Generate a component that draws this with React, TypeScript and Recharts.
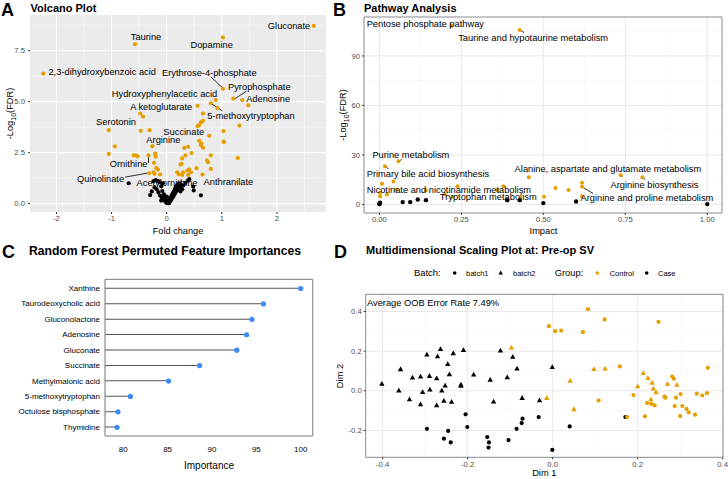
import React from 'react';
import {
  ScatterChart, Scatter, XAxis, YAxis, CartesianGrid, ComposedChart, Bar, Line,
  ReferenceLine, ReferenceArea,
} from 'recharts';

const FONT = '"Liberation Sans", Arial, Helvetica, sans-serif';
const ORANGE = '#E69F00';
const TICK = { fontSize: 7.7, fill: '#4D4D4D', fontFamily: FONT };

// ---------- Panel A: Volcano ----------
const volcanoSig = [
  [2.67, 8.72], [-0.574, 7.82], [1.02, 8.15], [-2.24, 6.38], [1.02, 5.63], [1.21, 5.15], [1.37, 5.08],
  [1.48, 4.82], [0.89, 5.08], [0.8, 4.92], [0.92, 4.69], [0.56, 4.8], [-0.48, 4.42], [-0.43, 4.27],
  [0.66, 4.42], [0.66, 4.06], [0.62, 3.98], [0.59, 3.85], [0.56, 3.8], [1.32, 3.83], [-1.05, 3.6],
  [-0.47, 3.57], [-0.31, 3.6], [0.77, 3.33], [1.03, 3.56], [1.03, 3.04], [0.59, 3.08], [0.63, 2.95],
  [0.66, 2.74], [-0.94, 2.81], [-0.26, 2.82], [0.32, 2.73], [0.39, 2.79], [0.45, 2.48], [0.34, 2.37],
  [-1.05, 2.44], [-0.6, 2.37], [-0.56, 2.37], [-0.53, 2.32], [-0.33, 2.37], [-0.21, 2.45], [-0.2, 2.31],
  [0.8, 2.37], [0.73, 2.11], [1.29, 2.24], [0.28, 2.22], [0.25, 1.92], [-0.23, 2.0], [-0.19, 1.75],
  [-0.16, 1.67], [-0.32, 1.49], [-0.24, 1.54], [-0.22, 1.46], [-0.12, 1.43], [0.19, 1.54], [0.22, 1.44],
  [0.38, 1.62], [0.41, 1.67], [0.44, 1.54], [0.39, 1.41], [0.28, 1.41], [0.3, 1.54], [0.8, 1.7],
  [0.65, 1.43], [0.62, 2.87], [1.04, 3.03], [0.54, 1.74], [0.75, 2.03], [0.27, 1.95],
].map(([x, y]) => ({ x, y }));

const volcanoNs = [
  [-0.69, 1.0], [-0.3, 0.42], [-0.27, 0.6], [-0.24, 1.1], [-0.22, 0.8], [-0.2, 1.15], [-0.18, 0.7],
  [-0.16, 1.12], [-0.15, 0.55], [-0.13, 1.05], [-0.12, 0.4], [-0.1, 0.85], [-0.09, 0.3], [-0.08, 0.62],
  [-0.07, 1.0], [-0.06, 0.22], [-0.05, 0.45], [-0.04, 0.15], [-0.03, 0.3], [-0.02, 0.08], [-0.01, 0.18],
  [0.0, 0.03], [0.01, 0.1], [0.02, 0.05], [0.03, 0.15], [0.04, 0.02], [0.05, 0.22], [0.06, 0.1],
  [0.07, 0.3], [0.08, 0.18], [0.09, 0.4], [0.1, 0.28], [0.11, 0.5], [0.12, 0.35], [0.13, 0.6],
  [0.14, 0.45], [0.15, 0.72], [0.16, 0.55], [0.17, 0.85], [0.19, 0.65], [0.2, 0.95], [0.22, 0.78],
  [0.24, 1.0], [0.26, 0.85], [0.28, 0.7], [0.3, 0.9], [0.34, 1.02], [0.39, 1.14], [0.41, 1.2],
  [0.48, 0.84], [0.49, 0.65], [0.62, 0.41], [0.25, 0.6], [-0.1, 0.15], [0.0, 0.35],
].map(([x, y]) => ({ x, y }));

const volcanoLabels = [
  { label: 'Gluconate', x: 2.22, y: 8.69 },
  { label: 'Taurine', x: -0.375, y: 8.15 },
  { label: 'Dopamine', x: 0.816, y: 7.76 },
  { label: '2,3-dihydroxybenzoic acid', x: -1.17, y: 6.44 },
  { label: 'Erythrose-4-phosphate', x: 0.773, y: 6.4 },
  { label: 'Pyrophosphate', x: 1.68, y: 5.73 },
  { label: 'Adenosine', x: 1.84, y: 5.15 },
  { label: 'Hydroxyphenylacetic acid', x: -0.04, y: 5.39 },
  { label: 'A ketoglutarate', x: -0.1, y: 4.74 },
  { label: '5-methoxytryptophan', x: 1.53, y: 4.3 },
  { label: 'Serotonin', x: -0.92, y: 3.98 },
  { label: 'Succinate', x: 0.31, y: 3.52 },
  { label: 'Arginine', x: -0.06, y: 3.12 },
  { label: 'Ornithine', x: -0.69, y: 1.92 },
  { label: 'Quinolinate', x: -1.2, y: 1.22 },
  { label: 'Acetylornithine', x: 0.006, y: 1.02 },
  { label: 'Anthranilate', x: 1.12, y: 1.06 },
];

const volcanoSegments = [
  [0.8, 6.22, 1.02, 5.66],
  [1.45, 5.52, 1.24, 5.15],
  [0.8, 4.92, 1.01, 4.55],
  [-0.33, 2.35, -0.33, 2.0],
  [-0.755, 1.3, -0.32, 1.51],
];

const volcanoXTicks = [-2, -1, 0, 1, 2];
const volcanoYTicks = [0, 2.5, 5, 7.5];
const volcanoXMinor = [-1.5, -0.5, 0.5, 1.5, 2.5];
const volcanoYMinor = [1.25, 3.75, 6.25, 8.75];

// ---------- Panel B: Pathway ----------
const pathwaySig = [
  [0.22, 108.3], [0.428, 105.7], [0.058, 26.2], [0.017, 23.1], [0.043, 13.9], [0.008, 12.5],
  [0.002, 7.0], [0.002, 5.0], [0.023, 6.0], [0.05, 9.0], [0.142, 8.6], [0.238, 11.0], [0.2, 6.0],
  [0.223, 4.6], [0.36, 8.6], [0.378, 11.0], [0.456, 16.5], [0.502, 4.6], [0.537, 9.9], [0.577, 8.7],
  [0.618, 13.1], [0.618, 10.7], [0.618, 5.0], [0.736, 17.7], [0.802, 16.5],
].map(([x, y]) => ({ x, y }));

const pathwayNs = [
  [0, 0.2], [0, 0.6], [0.002, 1.0], [0.071, 1.4], [0.094, 1.4], [0.117, 3.0], [0.142, 2.6],
  [0.39, 2.6], [0.428, 2.6], [0.5, 0.8], [0.6, 1.8], [1.0, 0.2],
].map(([x, y]) => ({ x, y }));

const pathwayLabels = [
  { label: 'Pentose phosphate pathway', x: 0.14, y: 109.3 },
  { label: 'Taurine and hypotaurine metabolism', x: 0.469, y: 101.1 },
  { label: 'Purine metabolism', x: 0.096, y: 30.0 },
  { label: 'Primary bile acid biosynthesis', x: 0.148, y: 18.5 },
  { label: 'Alanine, aspartate and glutamate metabolism', x: 0.697, y: 21.3 },
  { label: 'Arginine biosynthesis', x: 0.839, y: 11.9 },
  { label: 'Nicotinate and nicotinamide metabolism', x: 0.212, y: 8.7 },
  { label: 'Tryptophan metabolism', x: 0.332, y: 4.2 },
  { label: 'Arginine and proline metabolism', x: 0.816, y: 3.8 },
];

const pathwaySegments = [
  [0.428, 105.7, 0.441, 104.2],
  [0.058, 26.2, 0.068, 27.2],
  [0.017, 23.1, 0.028, 21.5],
  [0.736, 17.7, 0.742, 17.0],
  [0.802, 16.5, 0.811, 15.1],
  [0.618, 10.7, 0.652, 6.6],
];

const pathwayXTicks = [0, 0.25, 0.5, 0.75, 1];
const pathwayYTicks = [0, 30, 60, 90];
const pathwayXMinor = [0.125, 0.375, 0.625, 0.875];
const pathwayYMinor = [15, 45, 75, 105];

// ---------- Panel C: Importance ----------
const features = [
  'Xanthine', 'Taurodeoxycholic acid', 'Gluconolactone', 'Adenosine', 'Gluconate', 'Succinate',
  'Methylmalonic acid', '5-methoxytryptophan', 'Octulose bisphosphate', 'Thymidine',
];
const importances = [100, 95.8, 94.5, 93.9, 92.8, 88.6, 85.1, 80.8, 79.4, 79.3];
const importanceTicks = [80, 85, 90, 95, 100];
const importanceData = features.map((name, i) => ({ name, value: importances[i] }));

// ---------- Panel D: MDS ----------
const controlBatch1 = [
  [0.083, 0.412], [-0.009, 0.326], [0.006, 0.301], [0.02, 0.304], [0.071, 0.296], [0.122, 0.36],
  [0.249, 0.348], [0.158, 0.123], [0.365, 0.116], [0.19, -0.022], [0.108, -0.049], [0.222, -0.062],
  [0.232, -0.066], [0.24, -0.074], [0.263, -0.03], [0.265, -0.035], [0.29, -0.035], [0.301, -0.017],
  [0.339, -0.015], [0.352, -0.024], [0.363, -0.012], [0.287, -0.077], [0.305, -0.077], [0.315, -0.092],
  [0.32, -0.109], [0.335, -0.121], [0.3, -0.128], [0.217, -0.129], [0.175, -0.133], [0.281, 0.072],
  [0.285, 0.061],
].map(([x, y]) => ({ x, y }));

const controlBatch2 = [
  [-0.097, 0.217], [0.097, 0.109], [0.123, 0.111], [0.041, 0.05], [-0.014, -0.037], [0.05, -0.094],
  [0.213, 0.089], [0.224, 0.064], [0.234, 0.04], [0.237, 0.01], [0.243, -0.008], [0.2, 0.022],
  [0.27, 0.034], [0.292, 0.029], [0.231, -0.044],
].map(([x, y]) => ({ x, y }));

const caseBatch1 = [
  [-0.296, -0.192], [-0.246, -0.203], [-0.256, -0.242], [-0.24, -0.261], [-0.205, -0.119],
  [-0.201, -0.183], [-0.154, -0.234], [-0.15, -0.261], [-0.151, -0.287], [-0.104, -0.249],
  [-0.085, -0.192], [-0.073, -0.163], [-0.071, -0.141], [-0.033, -0.133], [-0.001, -0.299],
  [0.04, -0.18], [0.171, -0.133],
].map(([x, y]) => ({ x, y }));

const caseBatch2 = [
  [-0.402, 0.034], [-0.362, 0.0], [-0.358, 0.108], [-0.337, -0.044], [-0.33, 0.066], [-0.311, 0.071],
  [-0.311, -0.069], [-0.306, -0.007], [-0.296, 0.182], [-0.29, 0.074], [-0.289, 0.005], [-0.273, 0.062],
  [-0.273, -0.074], [-0.271, 0.173], [-0.264, 0.21], [-0.261, 0.0], [-0.256, -0.052], [-0.253, 0.025],
  [-0.247, 0.134], [-0.243, 0.082], [-0.238, -0.057], [-0.234, 0.188], [-0.216, 0.03], [-0.216, 0.024],
  [-0.21, 0.205], [-0.186, 0.081], [-0.147, 0.054], [-0.139, -0.055], [-0.123, 0.202], [-0.107, 0.067],
  [-0.094, 0.171], [-0.084, 0.111], [-0.072, -0.037], [-0.031, -0.049], [-0.001, 0.119],
].map(([x, y]) => ({ x, y }));

const mdsXTicks = [-0.4, -0.2, 0, 0.2, 0.4];
const mdsYTicks = [-0.2, 0, 0.2, 0.4];
const mdsXMinor = [-0.3, -0.1, 0.1, 0.3];
const mdsYMinor = [-0.3, -0.1, 0.1, 0.3];

// ---------- shapes ----------
const dot = (fill: string, r: number) => (p: any) => (
  <circle cx={p.cx} cy={p.cy} r={r} fill={fill} stroke="none" />
);
const tri = (fill: string) => (p: any) => (
  <polygon
    points={`${p.cx},${p.cy - 3} ${p.cx - 2.7},${p.cy + 1.8} ${p.cx + 2.7},${p.cy + 1.8}`}
    fill={fill}
  />
);
const labelShape = (p: any) => (
  <text
    x={p.cx}
    y={p.cy}
    textAnchor="middle"
    dominantBaseline="central"
    fontSize={9.3}
    fontFamily={FONT}
    fill="#000"
  >
    {p.payload.label}
  </text>
);
const featureTick = (p: any) => (
  <text x={p.x} y={p.y} textAnchor="end" dominantBaseline="central" fontSize={8}
    fontFamily={FONT} fill="#000">
    {p.payload.value}
  </text>
);

const seg = (s: number[], i: number) => (
  <ReferenceLine
    key={i}
    segment={[{ x: s[0], y: s[1] }, { x: s[2], y: s[3] }]}
    stroke="#000"
    strokeWidth={0.8}
    ifOverflow="visible"
  />
);

const VolcanoChart = () => (
  <ScatterChart width={330} height={238} margin={{ top: 15, right: 4, bottom: 0, left: 0 }}>
    <CartesianGrid fill="#EBEBEB" stroke="#FFFFFF" strokeWidth={0.5}
      horizontalValues={volcanoYMinor} verticalValues={volcanoXMinor} />
    <CartesianGrid stroke="#FFFFFF" strokeWidth={1.1}
      horizontalValues={volcanoYTicks} verticalValues={volcanoXTicks} />
    <XAxis type="number" dataKey="x" domain={[-2.48, 2.89]} ticks={volcanoXTicks} height={26}
      axisLine={false} tickSize={2} tickMargin={2} tick={TICK} tickLine={{ stroke: '#333' }}
      allowDataOverflow />
    <YAxis type="number" dataKey="y" domain={[-0.41, 9.25]} ticks={volcanoYTicks} width={30}
      axisLine={false} tickSize={2} tickMargin={3} tick={TICK} tickLine={{ stroke: '#333' }}
      tickFormatter={(v: number) => v.toFixed(1)} allowDataOverflow />
    {volcanoSegments.map(seg)}
    <Scatter data={volcanoSig} shape={dot(ORANGE, 2.1)} isAnimationActive={false} />
    <Scatter data={volcanoNs} shape={dot('#000', 2.1)} isAnimationActive={false} />
    <Scatter data={volcanoLabels} shape={labelShape} isAnimationActive={false} />
  </ScatterChart>
);

const PathwayChart = () => (
  <ScatterChart width={398} height={239} margin={{ top: 17, right: 6, bottom: 0, left: 0 }}>
    <CartesianGrid stroke="#F0F0F0" strokeWidth={0.5}
      horizontalValues={pathwayYMinor} verticalValues={pathwayXMinor} />
    <CartesianGrid stroke="#E6E6E6" strokeWidth={0.9}
      horizontalValues={pathwayYTicks} verticalValues={pathwayXTicks} />
    <XAxis type="number" dataKey="x" domain={[-0.047, 1.045]} ticks={pathwayXTicks} height={26}
      axisLine={false} tickSize={2} tickMargin={2} tick={TICK} tickLine={{ stroke: '#333' }}
      tickFormatter={(v: number) => v.toFixed(2)} allowDataOverflow />
    <YAxis type="number" dataKey="y" domain={[-5.2, 113.6]} ticks={pathwayYTicks} width={34}
      axisLine={false} tickSize={2} tickMargin={2} tick={TICK} tickLine={{ stroke: '#333' }}
      allowDataOverflow />
    <ReferenceArea x1={-0.047} x2={1.045} y1={-5.2} y2={113.6} fill="none" stroke="#8A8A8A"
      strokeWidth={1} ifOverflow="visible" />
    {pathwaySegments.map(seg)}
    <Scatter data={pathwaySig} shape={dot(ORANGE, 2)} isAnimationActive={false} />
    <Scatter data={pathwayNs} shape={dot('#000', 2.2)} isAnimationActive={false} />
    <Scatter data={pathwayLabels} shape={labelShape} isAnimationActive={false} />
  </ScatterChart>
);

const ImportanceChart = () => (
  <ComposedChart layout="vertical" width={330} height={202} data={importanceData}
    margin={{ top: 4.3, right: 16.3, bottom: 0, left: 0 }}>
    <XAxis type="number" domain={[77.94, 101.35]} ticks={importanceTicks} height={36}
      axisLine={{ stroke: '#777' }} tickLine={false} tickSize={0} tickMargin={10}
      tick={{ fontSize: 8, fill: '#000', fontFamily: FONT }} allowDataOverflow />
    <XAxis xAxisId="top" orientation="top" type="number" domain={[77.94, 101.35]}
      ticks={importanceTicks} height={5} tickSize={5} tick={false}
      axisLine={{ stroke: '#777' }} tickLine={{ stroke: '#777' }} allowDataOverflow />
    <YAxis type="category" dataKey="name" width={105} tickSize={0} tickMargin={5}
      tickLine={false} axisLine={{ stroke: '#777' }} padding={{ top: 1.5, bottom: 1 }}
      tick={featureTick} interval={0} />
    <YAxis yAxisId="right" orientation="right" type="category" dataKey="name" width={1}
      tick={false} tickLine={false} axisLine={{ stroke: '#999', strokeWidth: 1.3 }}
      padding={{ top: 1.5, bottom: 1 }} />
    <Bar dataKey="value" barSize={1} fill="#555" isAnimationActive={false} />
    <Line dataKey="value" stroke="none" isAnimationActive={false}
      dot={{ r: 2.6, fill: '#3D8BF7', stroke: 'none' }} activeDot={false} />
    <Line dataKey="value" xAxisId="top" yAxisId="right" stroke="none" dot={false}
      activeDot={false} isAnimationActive={false} />
  </ComposedChart>
);

const MdsChart = () => (
  <ScatterChart width={398} height={194} margin={{ top: 9.3, right: 5, bottom: 0, left: 0 }}>
    <CartesianGrid stroke="#F2F2F2" strokeWidth={0.5}
      horizontalValues={mdsYMinor} verticalValues={mdsXMinor} />
    <CartesianGrid stroke="#E6E6E6" strokeWidth={0.9}
      horizontalValues={mdsYTicks} verticalValues={mdsXTicks} />
    <XAxis type="number" dataKey="x" domain={[-0.44, 0.4007]} ticks={mdsXTicks} height={21.7}
      axisLine={false} tickSize={2} tickMargin={2} tick={TICK} tickLine={{ stroke: '#333' }}
      tickFormatter={(v: number) => v.toFixed(1)} allowDataOverflow />
    <YAxis type="number" dataKey="y" domain={[-0.336, 0.487]} ticks={mdsYTicks} width={35.7}
      axisLine={false} tickSize={2} tickMargin={2} tick={TICK} tickLine={{ stroke: '#333' }}
      tickFormatter={(v: number) => v.toFixed(1)} allowDataOverflow />
    <ReferenceArea x1={-0.44} x2={0.4007} y1={-0.336} y2={0.487} fill="none" stroke="#8A8A8A"
      strokeWidth={1} ifOverflow="visible" />
    <Scatter data={caseBatch2} shape={tri('#000')} isAnimationActive={false} />
    <Scatter data={caseBatch1} shape={dot('#000', 2.1)} isAnimationActive={false} />
    <Scatter data={controlBatch2} shape={tri(ORANGE)} isAnimationActive={false} />
    <Scatter data={controlBatch1} shape={dot(ORANGE, 2.1)} isAnimationActive={false} />
  </ScatterChart>
);

const LogTitle = ({ x, y }: { x: number; y: number }) => (
  <text x={x} y={y} transform={`rotate(-90 ${x} ${y})`} textAnchor="middle" fontSize={9.3}
    fontFamily={FONT} fill="#000" dominantBaseline="central">
    -Log
    <tspan fontSize={7} dy={2.5}>10</tspan>
    <tspan dy={-2.5}>(FDR)</tspan>
  </text>
);

const Overlay = () => (
  <svg width={728} height={479} style={{ position: 'absolute', left: 0, top: 0, pointerEvents: 'none' }}
    fontFamily={FONT}>
    <text x={1} y={16} fontSize={18} fontWeight="bold">A</text>
    <text x={30.5} y={11.7} fontSize={11} fontWeight="bold">Volcano Plot</text>
    <text x={333} y={16} fontSize={18} fontWeight="bold">B</text>
    <text x={364} y={11.7} fontSize={11} fontWeight="bold">Pathway Analysis</text>
    <LogTitle x={10} y={113.5} />
    <text x={178} y={234} fontSize={9.2} textAnchor="middle">Fold change</text>
    <LogTitle x={343} y={115} />
    <text x={543.5} y={234} fontSize={9.3} textAnchor="middle">Impact</text>

    <text x={2} y={257.5} fontSize={18} fontWeight="bold">C</text>
    <text x={165} y={255} fontSize={12.2} fontWeight="bold" textAnchor="middle">
      Random Forest Permuted Feature Importances
    </text>
    <text x={209} y={469} fontSize={10} textAnchor="middle">Importance</text>

    <text x={334} y={257.5} fontSize={18} fontWeight="bold">D</text>
    <text x={366} y={253.5} fontSize={11} fontWeight="bold">Multidimensional Scaling Plot at: Pre-op SV</text>
    <text x={414} y={276.3} fontSize={9.4}>Batch:</text>
    <circle cx={454.7} cy={273} r={1.8} fill="#000" />
    <text x={466} y={275.8} fontSize={7.5}>batch1</text>
    <polygon points="500.7,270.5 498.5,274.6 502.9,274.6" fill="#000" />
    <text x={513} y={275.8} fontSize={7.5}>batch2</text>
    <text x={554.7} y={276.3} fontSize={9.4}>Group:</text>
    <circle cx={597.3} cy={273} r={1.8} fill={ORANGE} />
    <text x={609.7} y={275.8} fontSize={7.5}>Control</text>
    <circle cx={646.7} cy={273} r={1.8} fill="#000" />
    <text x={658} y={275.8} fontSize={7.5}>Case</text>
    <text x={367} y={305.6} fontSize={9.3}>Average OOB Error Rate 7.49%</text>
    <text x={544.3} y={476} fontSize={9.3} textAnchor="middle">Dim 1</text>
    <text x={340} y={376} fontSize={9.3} textAnchor="middle" dominantBaseline="central"
      transform="rotate(-90 340 376)">Dim 2</text>
  </svg>
);

export default function App() {
  return (
    <div style={{ position: 'absolute', left: 0, top: 0, width: 728, height: 479, background: '#fff',
      fontFamily: FONT, overflow: 'hidden' }}>
      <div style={{ position: 'absolute', left: 0, top: 0 }}><VolcanoChart /></div>
      <div style={{ position: 'absolute', left: 330, top: 0 }}><PathwayChart /></div>
      <div style={{ position: 'absolute', left: 0, top: 270 }}><ImportanceChart /></div>
      <div style={{ position: 'absolute', left: 330, top: 285 }}><MdsChart /></div>
      <Overlay />
    </div>
  );
}
